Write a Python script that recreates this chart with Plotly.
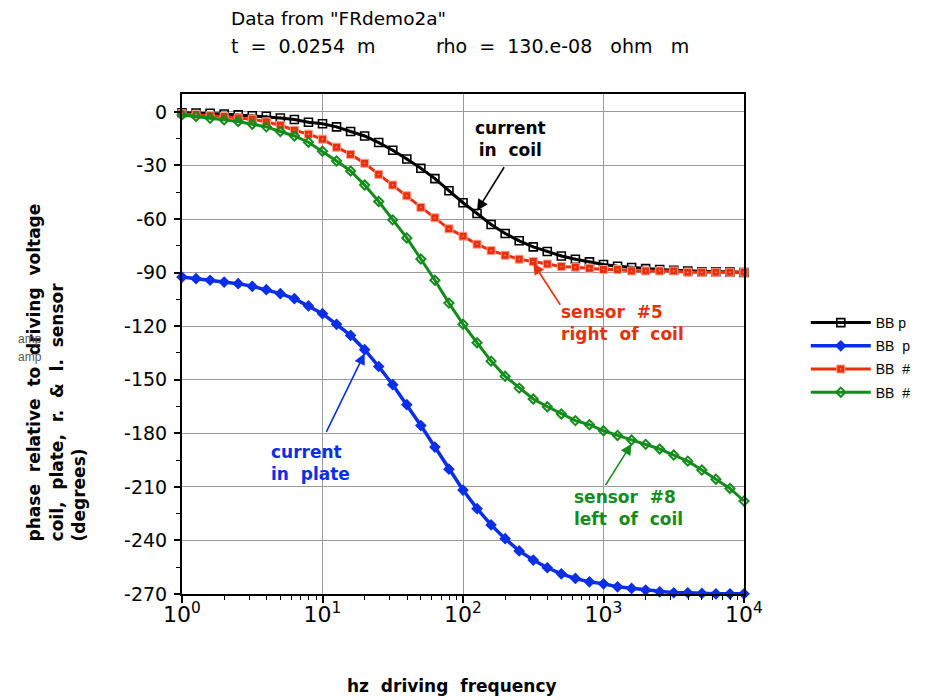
import math
import plotly.graph_objects as go

# ---------------- data ----------------
freq = [1, 1.259, 1.585, 1.995, 2.512, 3.162, 3.981, 5.012, 6.310, 7.943,
        10, 12.59, 15.85, 19.95, 25.12, 31.62, 39.81, 50.12, 63.10, 79.43,
        100, 125.9, 158.5, 199.5, 251.2, 316.2, 398.1, 501.2, 631.0, 794.3,
        1000, 1259, 1585, 1995, 2512, 3162, 3981, 5012, 6310, 7943, 10000]

coil = [-0.5, -0.6, -0.8, -1.2, -1.7, -2.2, -2.5, -3.4, -4.3, -5.8,
        -6.7, -8.4, -11.0, -13.5, -17.2, -21.5, -26.4, -31.6, -37.4, -44.2,
        -50.9, -56.9, -63.1, -68.1, -72.2, -75.6, -78.2, -80.7, -82.5, -84.0,
        -85.5, -86.5, -87.2, -87.8, -88.3, -88.7, -89.1, -89.5, -89.5, -89.6, -90.0]

plate = [-92.5, -93.4, -94.3, -95.3, -96.2, -97.7, -99.6, -101.8, -104.6, -108.7,
         -113.0, -119.0, -125.2, -133.2, -142.6, -152.8, -164.0, -175.7, -187.7, -200.1,
         -211.8, -222.2, -231.3, -239.0, -245.9, -251.0, -255.3, -258.7, -261.3, -263.2,
         -264.3, -266.0, -266.9, -267.8, -268.8, -269.3, -269.3, -269.7, -269.9, -269.9, -269.9]

sensor5 = [-1.1, -1.5, -2.1, -2.6, -3.4, -4.1, -5.6, -7.5, -10.3, -12.5,
           -15.3, -19.8, -23.8, -28.8, -35.0, -41.0, -47.0, -53.5, -59.3, -65.5,
           -69.6, -74.1, -77.7, -80.3, -82.5, -83.8, -85.2, -86.6, -87.0, -87.6,
           -88.3, -88.3, -89.1, -89.1, -89.1, -89.1, -89.8, -89.8, -89.8, -89.8, -89.8]

sensor8 = [-1.7, -2.6, -3.6, -4.5, -5.4, -6.9, -8.4, -11.0, -13.5, -17.0,
           -22.1, -27.5, -33.1, -41.0, -50.2, -60.5, -70.6, -82.4, -94.3, -107.1,
           -118.9, -129.3, -139.6, -148.1, -154.7, -160.8, -165.1, -169.2, -172.9, -175.2,
           -178.6, -181.2, -183.8, -186.2, -188.8, -192.2, -195.6, -200.6, -205.7, -210.9, -217.9]

series_names = ["BB p", "BB\u00a0\u00a0p", "BB\u00a0\u00a0#", "BB\u00a0\u00a0#"]

x_tickvals = [1, 10, 100, 1000, 10000]
x_ticktext = ["10<sup>0</sup>", "10<sup>1</sup>", "10<sup>2</sup>", "10<sup>3</sup>", "10<sup>4</sup>"]
y_tickvals = [0, -30, -60, -90, -120, -150, -180, -210, -240, -270]
y_ticktext = ["0", "-30", "-60", "-90", "-120", "-150", "-180", "-210", "-240", "-270"]

# ---------------- styling ----------------
BLACK = "#000000"
BLUE = "#0a2fe6"
RED = "#e8300c"
GREEN = "#148c1c"

W, H = 928, 700
L, R, T, B = 182, 746, 94, 594
PW, PH = R - L, B - T
NB = "\u00a0"


def pxx(x):
    return (x - L) / PW


def pxy(y):
    return (B - y) / PH


def sp(n):
    return NB * n


fig = go.Figure()

fig.add_trace(go.Scatter(
    x=freq, y=coil, name=series_names[0], mode="lines+markers", legendgroup="a",
    line=dict(color=BLACK, width=3), cliponaxis=False,
    marker=dict(symbol="square-open-dot", size=8, color=BLACK, line=dict(width=1.6, color=BLACK))))
fig.add_trace(go.Scatter(
    x=freq, y=plate, name=series_names[1], mode="lines+markers", legendgroup="b",
    line=dict(color=BLUE, width=3.5), cliponaxis=False,
    marker=dict(symbol="diamond", size=9, color=BLUE)))
fig.add_trace(go.Scatter(
    x=freq, y=sensor5, name=series_names[2], mode="lines+markers", legendgroup="c",
    line=dict(color=RED, width=3), cliponaxis=False,
    marker=dict(symbol="square-dot", size=8, color=RED, line=dict(width=1, color="#ffa090"))))
fig.add_trace(go.Scatter(
    x=freq, y=sensor8, name=series_names[3], mode="lines+markers", legendgroup="d",
    line=dict(color=GREEN, width=3), cliponaxis=False,
    marker=dict(symbol="diamond-open", size=7, color=GREEN, line=dict(width=2, color=GREEN))))

FONT = "DejaVu Sans"
ann = []
# title lines
ann.append(dict(text="Data from \"FRdemo2a\"", x=pxx(229), y=pxy(18),
                xanchor="left", yanchor="middle", font=dict(family=FONT, size=18.5, color="black")))
ann.append(dict(text="t" + sp(2) + "=" + sp(2) + "0.0254" + sp(2) + "m" + sp(10) + "rho" + sp(2) + "=" + sp(2)
                + "130.e-08" + sp(3) + "ohm" + sp(3) + "m",
                x=pxx(229), y=pxy(46),
                xanchor="left", yanchor="middle", font=dict(family=FONT, size=19, color="black")))
# axis titles
ann.append(dict(text="phase" + sp(2) + "relative" + sp(2) + "to" + sp(2) + "driving" + sp(2) + "voltage<br>"
                     "coil," + sp(2) + "plate," + sp(2) + "r." + sp(2) + "&" + sp(2) + "l." + sp(2) + "sensor<br>(degrees)",
                textangle=-90, align="left", x=pxx(56), y=pxy(372), xanchor="center", yanchor="middle",
                font=dict(family=FONT, size=17, color="black", weight="bold")))
ann.append(dict(text="hz" + sp(2) + "driving" + sp(2) + "frequency", x=pxx(453), y=pxy(686),
                xanchor="center", yanchor="middle",
                font=dict(family=FONT, size=17, color="black", weight="bold")))
ann.append(dict(text="amp", x=pxx(29), y=pxy(339), xanchor="center", yanchor="middle",
                font=dict(family="Liberation Sans", size=12, color="#555555")))
ann.append(dict(text="amp", x=pxx(29), y=pxy(357), xanchor="center", yanchor="middle",
                font=dict(family="Liberation Sans", size=12, color="#555555")))
# in-plot labels
lab_font = dict(family=FONT, size=17, weight="bold")
ann.append(dict(text="current<br>in" + sp(2) + "coil", x=pxx(512), y=pxy(138.5), align="center",
                xanchor="center", yanchor="middle", font=dict(lab_font, color=BLACK)))
ann.append(dict(text="sensor" + sp(2) + "#5<br>right" + sp(2) + "of" + sp(2) + "coil", x=pxx(560), y=pxy(322.5),
                align="left", xanchor="left", yanchor="middle", font=dict(lab_font, color=RED)))
ann.append(dict(text="current<br>in" + sp(2) + "plate", x=pxx(269), y=pxy(462.5), align="left",
                xanchor="left", yanchor="middle", font=dict(lab_font, color=BLUE)))
ann.append(dict(text="sensor" + sp(2) + "#8<br>left" + sp(2) + "of" + sp(2) + "coil", x=pxx(573), y=pxy(508),
                align="left", xanchor="left", yanchor="middle", font=dict(lab_font, color=GREEN)))
for a in ann:
    a.update(xref="paper", yref="paper", showarrow=False)

# arrows (tips placed at data points)
arrows = [
    (freq[21], coil[21] + 1.5, 28, -45, BLACK),
    (freq[25], sensor5[25] - 1, 28, 43, RED),
    (freq[13], plate[13] - 2, -39, 80, BLUE),
    (freq[32], sensor8[32] - 2, -27, 43, GREEN),
]
for fx, fy, ax, ay, col in arrows:
    ann.append(dict(text="", x=math.log10(fx), y=fy, xref="x", yref="y", ax=ax, ay=ay,
                    showarrow=True, arrowhead=2, arrowsize=1.4, arrowwidth=1.6, arrowcolor=col,
                    standoff=0))

fig.update_layout(
    width=W, height=H, autosize=False,
    margin=dict(l=L, r=W - R, t=T, b=H - B, pad=0),
    paper_bgcolor="white", plot_bgcolor="white",
    annotations=ann,
    showlegend=True,
    legend=dict(x=pxx(808), y=pxy(307), xanchor="left", yanchor="top",
                font=dict(family="Liberation Sans", size=14, color="black"),
                tracegroupgap=2, itemwidth=60, bgcolor="rgba(0,0,0,0)"),
)

fig.update_xaxes(
    type="log", range=[0, 4], tickvals=x_tickvals, ticktext=x_ticktext,
    ticks="outside", ticklen=7, tickwidth=1.5, tickcolor="black",
    showline=True, linecolor="black", linewidth=2, mirror=True,
    showgrid=True, gridcolor="#9a9a9a", gridwidth=1.2, zeroline=False,
    tickfont=dict(family=FONT, size=22, color="black"), ticklabelstandoff=-7,
    minor=dict(dtick="D1", ticks="outside", ticklen=4, tickwidth=1.2, tickcolor="black", showgrid=False),
)
fig.update_yaxes(
    range=[-270, 10], tickvals=y_tickvals, ticktext=y_ticktext,
    ticks="outside", ticklen=6, tickwidth=1.5, tickcolor="black",
    showline=True, linecolor="black", linewidth=2, mirror=True,
    showgrid=True, gridcolor="#9a9a9a", gridwidth=1.2, zeroline=False,
    tickfont=dict(family=FONT, size=19, color="black"), ticklabelstandoff=3,
    minor=dict(dtick=15, tick0=0, ticks="outside", ticklen=4, tickwidth=1.2, tickcolor="black", showgrid=False),
)

fig.write_html("out.html")
